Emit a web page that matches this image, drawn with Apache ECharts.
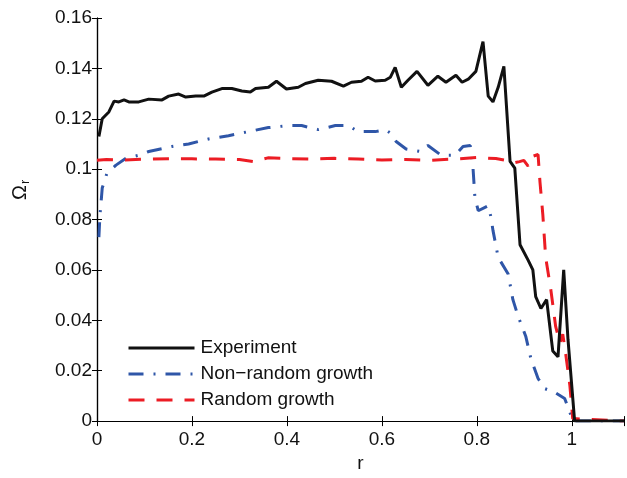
<!DOCTYPE html>
<html>
<head>
<meta charset="utf-8">
<script src="https://cdn.jsdelivr.net/npm/echarts@6/dist/echarts.min.js"></script>
<style>
  html, body { margin: 0; padding: 0; background: #fff; }
  #chart { width: 627px; height: 478px; }
</style>
</head>
<body>
<div id="chart"></div>
<script>
// Experiment (black solid)
const expR = [0.004, 0.011, 0.025, 0.036, 0.046, 0.057, 0.067, 0.088, 0.109, 0.137, 0.151, 0.172, 0.187, 0.208, 0.225,
  0.242, 0.263, 0.284, 0.305, 0.323, 0.334, 0.361, 0.378, 0.399, 0.424, 0.439, 0.466, 0.494, 0.519, 0.536, 0.557,
  0.571, 0.586, 0.607, 0.618, 0.628, 0.641, 0.655, 0.674, 0.697, 0.718, 0.735, 0.756, 0.769, 0.782, 0.798, 0.813,
  0.824, 0.834, 0.845, 0.857, 0.870, 0.880, 0.891, 0.908, 0.918, 0.924, 0.935, 0.947, 0.960, 0.971, 0.983, 0.992,
  1.006, 1.11]
const expV = [0.113, 0.120, 0.1227, 0.127, 0.1267, 0.1275, 0.1267, 0.1267, 0.1278, 0.1275, 0.129, 0.1298, 0.1286, 0.129, 0.129,
  0.1306, 0.132, 0.132, 0.131, 0.1306, 0.132, 0.1325, 0.1349, 0.1318, 0.1325, 0.134, 0.1353, 0.1349, 0.133, 0.1345, 0.1349,
  0.1365, 0.135, 0.1353, 0.1365, 0.1404, 0.1325, 0.1353, 0.1388, 0.1333, 0.1369, 0.1345, 0.1373, 0.1345, 0.1357, 0.1388, 0.1506,
  0.129, 0.1267, 0.1325, 0.1408, 0.1031, 0.1004, 0.070, 0.0639, 0.060, 0.0494, 0.0447, 0.0482, 0.0278, 0.0255, 0.060, 0.0325,
  0, 0]

// Non-random growth (blue dash-dot)
const nonRandR = [0.004, 0.006, 0.011, 0.021, 0.04, 0.061, 0.088, 0.109, 0.158, 0.193, 0.235, 0.277, 0.319, 0.361, 0.403,
  0.431, 0.466, 0.502, 0.529, 0.55, 0.586, 0.607, 0.620, 0.630, 0.651, 0.681, 0.697, 0.725, 0.754, 0.771, 0.786,
  0.792, 0.796, 0.803, 0.824, 0.830, 0.834, 0.845, 0.866, 0.876, 0.887, 0.903, 0.914, 0.929, 0.943, 0.964, 0.985,
  0.996, 1.002, 1.11]
const nonRandV = [0.073, 0.081, 0.0925, 0.0984, 0.1016, 0.1043, 0.1055, 0.107, 0.109, 0.110, 0.112, 0.1133, 0.1149, 0.1165, 0.1173,
  0.1173, 0.1157, 0.1173, 0.1173, 0.1149, 0.1149, 0.1157, 0.1141, 0.111, 0.108, 0.107, 0.1094, 0.1055, 0.1055, 0.109, 0.1094,
  0.1004, 0.0886, 0.0835, 0.0855, 0.0808, 0.0757, 0.065, 0.0584, 0.0482, 0.0416, 0.0337, 0.0247, 0.0169, 0.0129, 0.0114, 0.009,
  0.0035, 0, 0]

// Random growth (red dashed)
const randR = [0, 0.02, 0.05, 0.1, 0.15, 0.2, 0.25, 0.3, 0.33, 0.36, 0.4, 0.45, 0.5, 0.55, 0.6, 0.65, 0.7, 0.75, 0.8,
  0.84, 0.86, 0.876, 0.89, 0.899, 0.908, 0.916, 0.929, 0.933, 0.939, 0.945, 0.956, 0.966, 0.975, 0.981, 0.987, 0.996,
  1.002, 1.11]
const randV = [0.1035, 0.1038, 0.1036, 0.1040, 0.1041, 0.1041, 0.1040, 0.1038, 0.1030, 0.1045, 0.1042, 0.1040, 0.1043, 0.1040,
  0.1036, 0.1038, 0.1035, 0.1040, 0.1046, 0.1042, 0.1035, 0.1024, 0.1030, 0.1035, 0.1012, 0.1050, 0.1058, 0.095, 0.082, 0.065,
  0.052, 0.0376, 0.031, 0.0345, 0.027, 0.0141, 0.001, 0]

const xTicks = [0, 0.2, 0.4, 0.6, 0.8, 1]

const pairs = (xs, ys) => xs.map((x, i) => [x, ys[i]])

const chart = echarts.init(document.getElementById('chart'))

const font = 'Liberation Sans, Arial, Helvetica, sans-serif'
const axisBase = {
  axisLine: { show: true, lineStyle: { color: '#000', width: 1.2 } },
  axisTick: { show: true, inside: true, length: 5, lineStyle: { color: '#000', width: 1 } },
  splitLine: { show: false }
}

const option = {
  animation: false,
  grid: { left: 97, right: 1, top: 18, bottom: 52 },
  legend: {
    orient: 'vertical',
    left: 122,
    top: 333,
    itemWidth: 66,
    itemHeight: 20,
    itemGap: 6,
    itemStyle: { opacity: 0 },
    lineStyle: { width: 3 },
    textStyle: { fontFamily: font, fontSize: 19, color: '#111', lineHeight: 20, padding: [0, 0, 0, 1] },
    data: ['Experiment', 'Non\u2212random growth', 'Random growth']
  },
  xAxis: [
    {
      ...axisBase,
      type: 'value',
      min: 0,
      max: 1.11,
      interval: 0.2,
      name: 'r',
      nameLocation: 'middle',
      nameGap: 32,
      nameTextStyle: { fontFamily: font, fontSize: 19, color: '#111' },
      axisLabel: {
        margin: 9,
        fontFamily: font,
        fontSize: 19,
        color: '#111',
        formatter: v => xTicks.some(t => Math.abs(t - v) < 1e-6) ? String(+v.toFixed(2)) : ''
      }
    },
    {
      ...axisBase,
      type: 'value',
      position: 'top',
      min: 0,
      max: 1.11,
      interval: 0.2,
      axisLabel: { show: false }
    }
  ],
  yAxis: [
    {
      ...axisBase,
      type: 'value',
      min: 0,
      max: 0.16,
      interval: 0.02,
      axisLabel: { margin: 5, fontFamily: font, fontSize: 19, color: '#111' }
    },
    {
      ...axisBase,
      type: 'value',
      position: 'right',
      min: 0,
      max: 0.16,
      interval: 0.02,
      axisLabel: { show: false }
    }
  ],
  graphic: [
    {
      type: 'text',
      x: 9,
      y: 200,
      rotation: Math.PI / 2,
      style: {
        text: '{a|\u03A9}{b|r}',
        rich: {
          a: { fontFamily: font, fontSize: 20, fill: '#111' },
          b: { fontFamily: font, fontSize: 13, fill: '#111', padding: [10, 0, 0, 1] }
        }
      }
    }
  ],
  series: [
    {
      name: 'Experiment',
      type: 'line',
      data: pairs(expR, expV),
      symbol: 'none',
      lineStyle: { color: '#111', width: 3 },
      itemStyle: { color: '#111' },
      z: 3
    },
    {
      name: 'Non\u2212random growth',
      type: 'line',
      data: pairs(nonRandR, nonRandV),
      symbol: 'none',
      lineStyle: { color: '#2f56a8', width: 3, type: [15, 10, 2, 10] },
      itemStyle: { color: '#2f56a8' },
      z: 2
    },
    {
      name: 'Random growth',
      type: 'line',
      data: pairs(randR, randV),
      symbol: 'none',
      lineStyle: { color: '#ec1c24', width: 3, type: [16, 12] },
      itemStyle: { color: '#ec1c24' },
      z: 2
    }
  ]
}

chart.setOption(option)
</script>
</body>
</html>
